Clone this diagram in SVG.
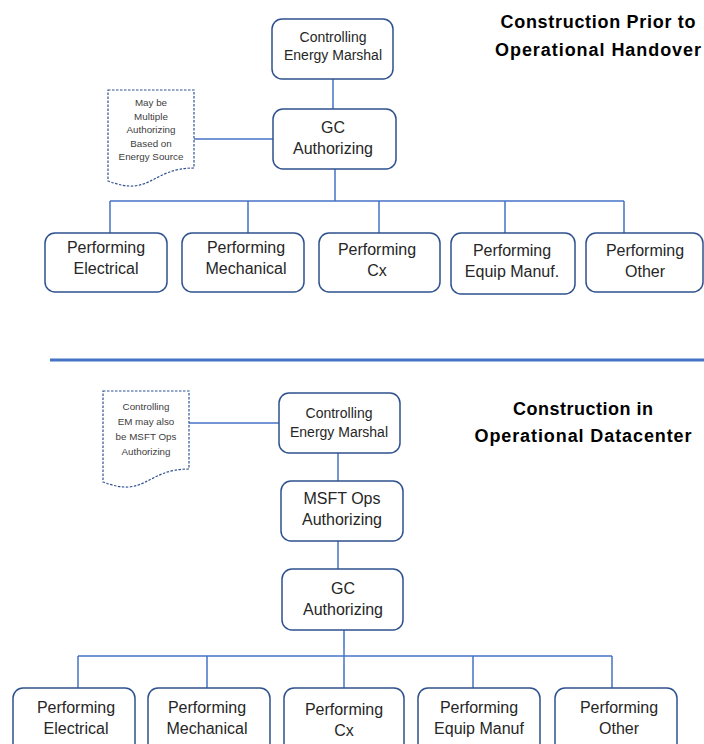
<svg xmlns="http://www.w3.org/2000/svg" width="704" height="744" viewBox="0 0 704 744">
<style>
.bg{fill:#fff}
.box{fill:#fff;stroke:#2F528F;stroke-width:1.5}
.conn{stroke:#4472C4;stroke-width:1.5;fill:none}
.sep{stroke:#4472C4;stroke-width:3;fill:none}
.note{fill:#fff;stroke:#2F528F;stroke-width:1.2;stroke-dasharray:2.5 1.5}
.t{font-family:"Liberation Sans",Arial,sans-serif;font-size:16px;fill:#262626;text-anchor:middle}
.s{font-size:14px}
.nt{font-family:"Liberation Sans",Arial,sans-serif;font-size:9.8px;fill:#404040;text-anchor:middle}
.title{font-family:"Liberation Sans",Arial,sans-serif;font-size:18px;font-weight:bold;fill:#000;text-anchor:middle}
</style>
<rect class="bg" x="0" y="0" width="704" height="744"/>

<g id="connectors">
  <!-- top section -->
  <line class="conn" x1="333" y1="79" x2="333" y2="109"/>
  <line class="conn" x1="194" y1="139" x2="273" y2="139"/>
  <line class="conn" x1="335" y1="169" x2="335" y2="201"/>
  <line class="conn" x1="110" y1="201" x2="624" y2="201"/>
  <line class="conn" x1="110" y1="201" x2="110" y2="233"/>
  <line class="conn" x1="248" y1="201" x2="248" y2="233"/>
  <line class="conn" x1="379" y1="201" x2="379" y2="233"/>
  <line class="conn" x1="505" y1="201" x2="505" y2="233"/>
  <line class="conn" x1="624" y1="201" x2="624" y2="233"/>
  <!-- bottom section -->
  <line class="conn" x1="189" y1="423" x2="279" y2="423"/>
  <line class="conn" x1="338" y1="453" x2="338" y2="481"/>
  <line class="conn" x1="338" y1="541" x2="338" y2="569"/>
  <line class="conn" x1="344" y1="630" x2="344" y2="688"/>
  <line class="conn" x1="78" y1="656" x2="612" y2="656"/>
  <line class="conn" x1="78" y1="656" x2="78" y2="688"/>
  <line class="conn" x1="207" y1="656" x2="207" y2="688"/>
  <line class="conn" x1="473" y1="656" x2="473" y2="688"/>
  <line class="conn" x1="612" y1="656" x2="612" y2="688"/>
</g>

<g id="separator">
  <line class="sep" x1="50" y1="360" x2="704" y2="360"/>
</g>

<g id="title-top">
  <text class="title" x="598" y="28" textLength="195" lengthAdjust="spacing">Construction Prior to</text>
  <text class="title" x="598" y="56" textLength="206" lengthAdjust="spacing">Operational Handover</text>
</g>
<g id="title-bottom">
  <text class="title" x="583" y="415" textLength="140" lengthAdjust="spacing">Construction in</text>
  <text class="title" x="583" y="442" textLength="217" lengthAdjust="spacing">Operational Datacenter</text>
</g>

<!-- Top section nodes -->
<g id="top-cem">
  <rect class="box" x="272" y="19" width="121" height="60" rx="10"/>
  <text class="t s" x="333" y="42">Controlling</text>
  <text class="t s" x="333" y="60">Energy Marshal</text>
</g>
<g id="top-gc">
  <rect class="box" x="273" y="109" width="123" height="60" rx="10"/>
  <text class="t" x="333" y="133">GC</text>
  <text class="t" x="333" y="154">Authorizing</text>
</g>
<g id="top-note">
  <path class="note" d="M108,90 H194 V168 C151,168 151,197.6 108,181 Z"/>
  <text class="nt" x="151" y="106">May be</text>
  <text class="nt" x="151" y="119.5">Multiple</text>
  <text class="nt" x="151" y="133">Authorizing</text>
  <text class="nt" x="151" y="146.5">Based on</text>
  <text class="nt" x="151" y="160">Energy Source</text>
</g>
<g id="top-elec">
  <rect class="box" x="45" y="233" width="122" height="59" rx="10"/>
  <text class="t" x="106" y="253">Performing</text>
  <text class="t" x="106" y="274">Electrical</text>
</g>
<g id="top-mech">
  <rect class="box" x="182" y="233" width="122" height="59" rx="10"/>
  <text class="t" x="246" y="253">Performing</text>
  <text class="t" x="246" y="274">Mechanical</text>
</g>
<g id="top-cx">
  <rect class="box" x="319" y="233" width="121" height="59" rx="10"/>
  <text class="t" x="377" y="255">Performing</text>
  <text class="t" x="377" y="276">Cx</text>
</g>
<g id="top-equip">
  <rect class="box" x="451" y="233" width="124" height="61" rx="10"/>
  <text class="t" x="512" y="256">Performing</text>
  <text class="t" x="512" y="277">Equip Manuf.</text>
</g>
<g id="top-other">
  <rect class="box" x="586" y="233" width="117" height="59" rx="10"/>
  <text class="t" x="645" y="256">Performing</text>
  <text class="t" x="645" y="277">Other</text>
</g>

<!-- Bottom section nodes -->
<g id="bot-note">
  <path class="note" d="M103,391 H189 V469 C146,469 146,498.6 103,482 Z"/>
  <text class="nt" x="146" y="410">Controlling</text>
  <text class="nt" x="146" y="425">EM may also</text>
  <text class="nt" x="146" y="440">be MSFT Ops</text>
  <text class="nt" x="146" y="455">Authorizing</text>
</g>
<g id="bot-cem">
  <rect class="box" x="279" y="393" width="121" height="60" rx="10"/>
  <text class="t s" x="339" y="418">Controlling</text>
  <text class="t s" x="339" y="437">Energy Marshal</text>
</g>
<g id="bot-msft">
  <rect class="box" x="281" y="481" width="122" height="60" rx="10"/>
  <text class="t" x="342" y="504">MSFT Ops</text>
  <text class="t" x="342" y="525">Authorizing</text>
</g>
<g id="bot-gc">
  <rect class="box" x="282" y="569" width="121" height="61" rx="10"/>
  <text class="t" x="343" y="594">GC</text>
  <text class="t" x="343" y="615">Authorizing</text>
</g>
<g id="bot-elec">
  <rect class="box" x="13" y="688" width="122" height="70" rx="10"/>
  <text class="t" x="76" y="713">Performing</text>
  <text class="t" x="76" y="734">Electrical</text>
</g>
<g id="bot-mech">
  <rect class="box" x="148" y="688" width="122" height="70" rx="10"/>
  <text class="t" x="207" y="713">Performing</text>
  <text class="t" x="207" y="734">Mechanical</text>
</g>
<g id="bot-cx">
  <rect class="box" x="284" y="688" width="120" height="70" rx="10"/>
  <text class="t" x="344" y="715">Performing</text>
  <text class="t" x="344" y="736">Cx</text>
</g>
<g id="bot-equip">
  <rect class="box" x="418" y="688" width="122" height="70" rx="10"/>
  <text class="t" x="479" y="713">Performing</text>
  <text class="t" x="479" y="734">Equip Manuf</text>
</g>
<g id="bot-other">
  <rect class="box" x="555" y="688" width="122" height="70" rx="10"/>
  <text class="t" x="619" y="713">Performing</text>
  <text class="t" x="619" y="734">Other</text>
</g>
</svg>
